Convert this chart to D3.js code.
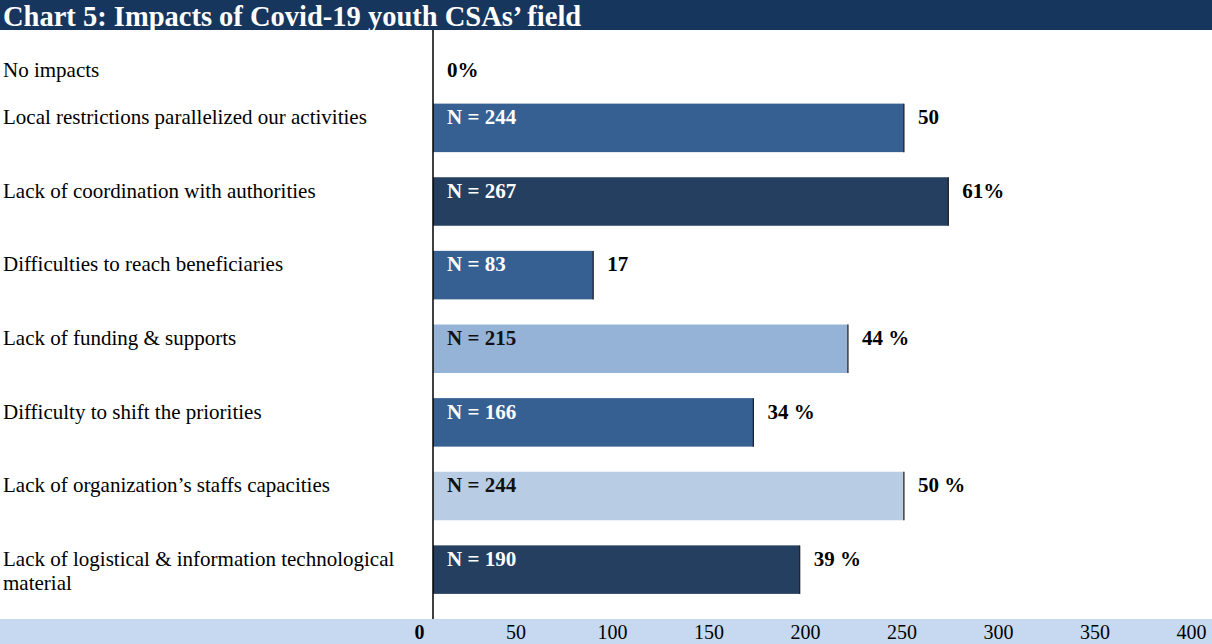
<!DOCTYPE html>
<html>
<head>
<meta charset="utf-8">
<script src="https://cdn.jsdelivr.net/npm/d3@7"></script>
<style>
  html, body { margin: 0; padding: 0; background: #fff; }
  svg { display: block; font-family: "Liberation Serif", "Times New Roman", serif; }
</style>
</head>
<body>
<svg id="chart" width="1212" height="644"></svg>
<script>
// Impacts of Covid-19 on youth CSAs' field: respondents per impact
const title = "Chart 5: Impacts of Covid-19 youth CSAs\u2019 field";
const categories = [
  "No impacts",
  "Local restrictions parallelized our activities",
  "Lack of coordination with authorities",
  "Difficulties to reach beneficiaries",
  "Lack of funding & supports",
  "Difficulty to shift the priorities",
  "Lack of organization\u2019s staffs capacities",
  "Lack of logistical & information technological material"
];
const counts = [0, 244, 267, 83, 215, 166, 244, 190];
const shareLabels = ["0%", "50", "61%", "17", "44 %", "34 %", "50 %", "39 %"];
const tickValues = [0, 50, 100, 150, 200, 250, 300, 350, 400];

// bar fills per row, and the text colour used inside each bar
const fills = ["#366092", "#366092", "#243F60", "#366092", "#95B3D7", "#366092", "#B8CCE4", "#243F60"];
const insideText = ["#fff", "#fff", "#fff", "#fff", "#111", "#fff", "#111", "#fff"];

const W = 1212, H = 644;
const svg = d3.select("#chart");

const plotTop = 30, plotBottom = 619, axisX = 433;

const x = d3.scaleLinear().domain([0, 400]).range([axisX, 1205]);
const y = d3.scaleBand().domain(categories).range([plotTop, plotBottom]).paddingInner(0);
const barH = 48.5;

// title banner
svg.append("rect").attr("x", 0).attr("y", 0).attr("width", W).attr("height", plotTop)
  .attr("fill", "#17365D");
svg.append("text").attr("x", 3).attr("y", 25.5)
  .attr("fill", "#fff").attr("font-weight", "bold").attr("font-size", 28.5)
  .text(title);

// bottom axis band
svg.append("rect").attr("x", 0).attr("y", plotBottom).attr("width", W).attr("height", H - plotBottom)
  .attr("fill", "#C6D9F1");

const axis = d3.axisBottom(x).tickValues(tickValues).tickSize(0).tickPadding(0);
const gAxis = svg.append("g").attr("transform", `translate(0,${plotBottom})`).call(axis);
gAxis.select(".domain").remove();
gAxis.selectAll(".tick text")
  .attr("y", 20).attr("dy", 0).attr("dx", -14)
  .attr("font-family", "Liberation Serif, Times New Roman, serif")
  .attr("font-size", 20).attr("fill", "#000")
  .attr("font-weight", d => d === 0 ? "bold" : "normal");

// category labels
const labelG = svg.append("g");
categories.forEach((c, i) => {
  const t = labelG.append("text")
    .attr("x", 3)
    .attr("y", y(c) + (i === 0 ? 47 : 20.5))
    .attr("font-size", 21).attr("fill", "#000");
  if (c.length > 48) {
    const words = c.split(" ");
    const first = words.slice(0, -1).join(" ");
    t.append("tspan").attr("x", 3).text(first);
    t.append("tspan").attr("x", 3).attr("dy", 24).text(words[words.length - 1]);
  } else {
    t.text(c);
  }
});

// bars
const rows = categories.map((c, i) => ({ c, n: counts[i], share: shareLabels[i], i }));
const barRows = rows.filter(d => d.n > 0);

svg.append("g").selectAll("rect").data(barRows).join("rect")
  .attr("x", x(0)).attr("y", d => y(d.c))
  .attr("width", d => x(d.n) - x(0)).attr("height", barH)
  .attr("fill", d => fills[d.i]);

// dark end cap on each bar
svg.append("g").selectAll("line").data(barRows).join("line")
  .attr("x1", d => x(d.n)).attr("x2", d => x(d.n))
  .attr("y1", d => y(d.c)).attr("y2", d => y(d.c) + barH)
  .attr("stroke", "#1a1a1a").attr("stroke-width", 1.2);

// N labels inside bars
svg.append("g").selectAll("text").data(barRows).join("text")
  .attr("x", x(0) + 14).attr("y", d => y(d.c) + 20.5)
  .attr("font-size", 21).attr("font-weight", "bold")
  .attr("fill", d => insideText[d.i])
  .text(d => `N = ${d.n}`);

// share labels right of bars
svg.append("g").selectAll("text").data(rows).join("text")
  .attr("x", d => x(d.n) + 14)
  .attr("y", d => y(d.c) + (d.i === 0 ? 47 : 20.5))
  .attr("font-size", 21).attr("font-weight", "bold").attr("fill", "#000")
  .text(d => d.share);

// vertical axis line
svg.append("line").attr("x1", axisX).attr("x2", axisX)
  .attr("y1", plotTop).attr("y2", plotBottom)
  .attr("stroke", "#000").attr("stroke-width", 1.5);
</script>
</body>
</html>
